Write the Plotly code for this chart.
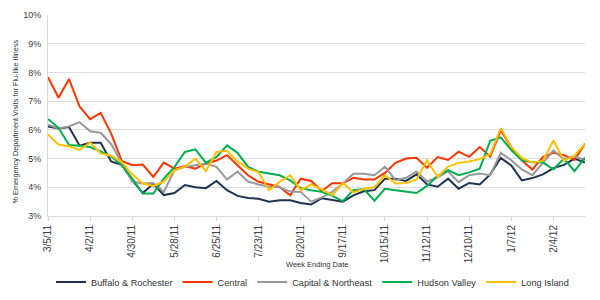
import pandas as pd
import plotly.graph_objects as go

weeks = pd.date_range("2011-03-05", periods=52, freq="7D")
tick_labels = ["3/5/11", "4/2/11", "4/30/11", "5/28/11", "6/25/11", "7/23/11", "8/20/11",
               "9/17/11", "10/15/11", "11/12/11", "12/10/11", "1/7/12", "2/4/12"]

buffalo = [6.12, 6.05, 6.1, 5.45, 5.55, 5.55, 4.9, 4.78, 4.25, 3.8, 4.12, 3.73, 3.8, 4.08, 4.0, 3.97,
           4.22, 3.9, 3.7, 3.63, 3.6, 3.5, 3.55, 3.55, 3.45, 3.4, 3.62, 3.55, 3.5, 3.72, 3.86, 3.9,
           4.3, 4.3, 4.22, 4.45, 4.1, 4.02, 4.3, 3.95, 4.15, 4.1, 4.45, 5.02, 4.76, 4.24, 4.32, 4.45,
           4.67, 4.78, 5.0, 4.86]
central = [7.83, 7.12, 7.77, 6.81, 6.37, 6.59, 5.87, 4.92, 4.77, 4.79, 4.36, 4.86, 4.65, 4.73, 4.65, 4.83,
           4.93, 5.12, 4.77, 4.42, 4.19, 4.1, 4.01, 3.72, 4.3, 4.22, 3.87, 4.14, 4.14, 4.33, 4.27, 4.27,
           4.5, 4.85, 5.0, 5.03, 4.68, 5.05, 4.95, 5.24, 5.06, 5.4, 5.07, 5.98, 5.4, 4.94, 4.62, 5.05,
           5.2, 5.12, 4.95, 5.52]
capital = [6.18, 6.05, 6.12, 6.27, 5.95, 5.9, 5.5, 4.85, 4.2, 4.13, 4.15, 3.84, 4.59, 4.71, 4.77, 4.83,
           4.71, 4.27, 4.55, 4.2, 4.1, 4.02, 4.0, 3.85, 3.84, 3.5, 3.65, 3.84, 4.13, 4.47, 4.47, 4.42,
           4.72, 4.25, 4.33, 4.55, 4.2, 4.35, 4.55, 4.18, 4.42, 4.48, 4.42, 5.2, 4.94, 4.62, 4.42, 4.85,
           5.28, 4.97, 5.08, 4.95]
hudson = [6.38, 6.07, 5.47, 5.45, 5.4, 5.25, 5.07, 4.78, 4.3, 3.78, 3.78, 4.3, 4.7, 5.23, 5.32, 4.85,
          5.06, 5.46, 5.2, 4.71, 4.54, 4.47, 4.42, 4.24, 3.97, 3.9, 3.84, 3.7, 3.52, 3.9, 3.94, 3.53,
          3.95, 3.9, 3.85, 3.8, 4.05, 4.4, 4.6, 4.42, 4.52, 4.65, 5.62, 5.74, 5.3, 4.94, 4.87, 4.87,
          4.62, 5.0, 4.56, 5.03]
long_island = [5.84, 5.49, 5.43, 5.3, 5.56, 5.18, 5.1, 4.88, 4.45, 4.13, 4.05, 4.2, 4.59, 4.72, 5.0, 4.57,
               5.23, 5.27, 4.9, 4.65, 4.53, 3.9, 4.19, 4.42, 3.9, 4.1, 3.93, 3.72, 4.15, 3.82, 3.95, 4.0,
               4.42, 4.13, 4.15, 4.27, 4.94, 4.36, 4.72, 4.85, 4.9, 4.98, 5.15, 6.06, 5.4, 5.02, 4.86, 4.92,
               5.63, 4.93, 5.1, 5.52]

series = [
    ("Buffalo & Rochester", buffalo, "#1f3350"),
    ("Central", central, "#ff3300"),
    ("Capital & Northeast", capital, "#999999"),
    ("Hudson Valley", hudson, "#00b050"),
    ("Long Island", long_island, "#ffc000"),
]

fig = go.Figure()
for name, vals, color in series:
    fig.add_trace(go.Scatter(x=weeks, y=[v / 100 for v in vals], mode="lines", name=name,
                             line=dict(color=color, width=2)))

font_family = "Liberation Sans, Arial, sans-serif"
fig.update_layout(
    width=600, height=300,
    margin=dict(l=48, r=15, t=15, b=84, autoexpand=False),
    paper_bgcolor="white", plot_bgcolor="white",
    font=dict(family=font_family, color="#404040"),
    showlegend=True,
    legend=dict(orientation="h", x=3 / 537, xanchor="left", y=-(282 - 216) / 201, yanchor="middle",
                font=dict(size=9.2, color="#333333"), bgcolor="rgba(0,0,0,0)",
                tracegroupgap=0, itemwidth=30),
    xaxis=dict(range=[weeks[0], weeks[-1]], tickvals=list(weeks[::4]), ticktext=tick_labels,
               tickangle=-90, tickfont=dict(size=10, color="#404040"), showgrid=False,
               showline=True, linecolor="#d9d9d9", linewidth=1, ticks="outside",
               ticklen=4, tickcolor="#d9d9d9", zeroline=False, automargin=False),
    yaxis=dict(range=[0.03, 0.10], dtick=0.01, tickformat=".0%", tickfont=dict(size=9, color="#404040"),
               showgrid=True, gridcolor="#dedede", gridwidth=1, showline=True, linecolor="#d9d9d9",
               linewidth=1, zeroline=False, ticks="outside", ticklen=4, tickcolor="white",
               automargin=False),
)
fig.add_annotation(text="% Emergency Department Visits for Flu-like Illness", textangle=-90,
                   xref="paper", yref="paper", x=-(48 - 15) / 201 * 201 / 537, y=(216 - 121.5) / 201,
                   xanchor="center", yanchor="middle", showarrow=False,
                   font=dict(size=7.3, color="#333333"))
fig.add_annotation(text="Week Ending Date", xref="paper", yref="paper",
                   x=(316.5 - 48) / 537, y=-(264 - 216) / 201, xanchor="center", yanchor="middle",
                   showarrow=False, font=dict(size=7.5, color="#333333"))
fig.write_html("out.html")
